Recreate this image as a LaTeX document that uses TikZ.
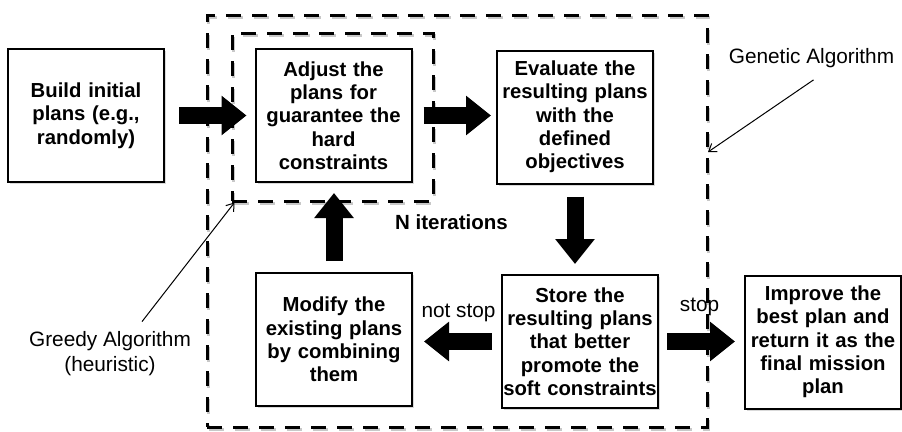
\documentclass[tikz,border=0pt]{standalone}
\usepackage{fontspec}
\setmainfont{Liberation Sans}
\usepackage{tikz}
\usetikzlibrary{
    positioning,
    arrows.meta,
    calc,
    shadows
}
\definecolor{FrameShade}{RGB}{200,200,200}
\tikzset{
    stepbox/.style={draw, line width=2pt, fill=white, minimum width=156pt, minimum height=133pt,
        text width=156pt, inner sep=0pt, align=center, font=\fontsize{20.3}{23.3}\selectfont\bfseries,
        drop shadow={shadow xshift=2pt, shadow yshift=-2pt, opacity=0.3}},
    frame/.style={draw, line width=3pt, dash pattern=on 15pt off 11pt, inner sep=0pt},
    frameshade/.style={frame, draw=FrameShade},
    blockarrow/.style={line width=17pt, -{Triangle[length=25pt,width=38pt]}},
    thinarrow/.style={line width=1pt, -{Straight Barb[length=7pt,width=10pt]}},
    lbl/.style={font=\fontsize{20.8}{25}\selectfont, align=center, inner sep=2pt}
}
\begin{document}
\begin{tikzpicture}[x=1pt, y=-1pt]
    \useasboundingbox (0,0) rectangle (902,431);
    % frames, shade first
    \node[frameshade, minimum width=500pt, minimum height=412pt] (gashade) at (458.5,223) {};
    \node[frameshade, minimum width=201pt, minimum height=168pt] (gdshade) at (334,119) {};
    % steps
    \node[stepbox] (build) at (86,115.5) {Build initial\\plans (e.g.,\\randomly)};
    \node[stepbox] (adjust) at (333.5,115.5) {Adjust the\\plans for\\guarantee the\\hard\\constraints};
    \node[stepbox] (eval) at (575,117) {Evaluate the\\resulting plans\\with the\\defined\\objectives};
    \node[stepbox] (modify) at (334,339.5) {Modify the\\existing plans\\by combining\\them};
    \node[stepbox] (store) at (580,341.5) {Store the\\resulting plans\\that better\\promote the\\soft~constraints};
    \node[stepbox] (improve) at (823,342) {Improve the\\best plan and\\return it as the\\final mission\\plan};
    % block arrows
    \draw[blockarrow, shorten <=14pt, shorten >=8pt] (build.east) -- (adjust.west);
    \draw[blockarrow, shorten <=11pt, shorten >=5pt] (adjust.east) -- (adjust.east -| eval.west);
    \draw[blockarrow, shorten <=12pt, shorten >=10pt] (eval.south) -- (eval.south |- store.north);
    \draw[blockarrow, shorten <=9pt, shorten >=11pt] (store.west) -- (store.west -| modify.east);
    \draw[blockarrow, shorten <=8pt, shorten >=9pt] (store.east) -- (store.east -| improve.west);
    \draw[blockarrow, shorten <=11pt, shorten >=10pt] (modify.north) -- (modify.north |- adjust.south);
    % frames
    \node[frame, minimum width=500pt, minimum height=412pt] (gaframe) at (457,221) {};
    \node[frame, minimum width=201pt, minimum height=168pt] (gdframe) at (332.5,117) {};
    % labels
    \node[lbl, font=\fontsize{20.5}{25}\selectfont\bfseries] (iter) at (451.5,222) {N iterations};
    \node[lbl] (notstop) at (458.5,313) {not stop};
    \node[lbl] (stop) at (699.5,307) {stop};
    \node[lbl] (galabel) at (811.5,58) {Genetic Algorithm};
    \node[lbl] (gdlabel) at (110,354) {Greedy Algorithm\\(heuristic)};
    \coordinate (gatip) at (708,152);
    \draw[thinarrow] ([xshift=2pt,yshift=-10pt]galabel.south) -- (gatip);
    \draw[thinarrow] ([xshift=32pt,yshift=8pt]gdlabel.north) -- ([xshift=4pt]gdframe.south west);
\end{tikzpicture}
\end{document}
